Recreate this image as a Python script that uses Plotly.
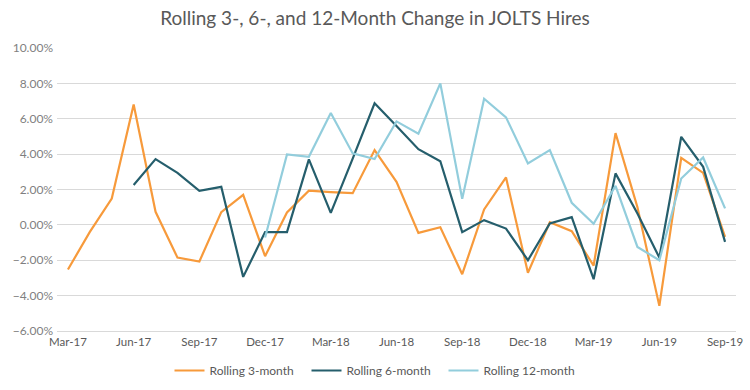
import plotly.graph_objects as go

months = ["Mar-17","Apr-17","May-17","Jun-17","Jul-17","Aug-17","Sep-17","Oct-17","Nov-17","Dec-17",
          "Jan-18","Feb-18","Mar-18","Apr-18","May-18","Jun-18","Jul-18","Aug-18","Sep-18","Oct-18",
          "Nov-18","Dec-18","Jan-19","Feb-19","Mar-19","Apr-19","May-19","Jun-19","Jul-19","Aug-19","Sep-19"]

rolling_3 = [-2.52, -0.40, 1.49, 6.81, 0.74, -1.85, -2.07, 0.72, 1.70, -1.77,
             0.70, 1.93, 1.85, 1.79, 4.23, 2.43, -0.45, -0.13, -2.79, 0.87,
             2.68, -2.71, 0.15, -0.36, -2.30, 5.19, 1.00, -4.58, 3.79, 2.94, -0.68]

rolling_6 = [None, None, None, 2.25, 3.72, 2.94, 1.93, 2.15, -2.94, -0.41,
             -0.41, 3.70, 0.68, 3.75, 6.87, 5.59, 4.28, 3.60, -0.41, 0.27,
             -0.21, -2.00, 0.08, 0.44, -3.07, 2.91, 0.64, -1.85, 4.98, 3.28, -0.96]

rolling_12 = [None, None, None, None, None, None, None, None, None, -0.71,
              3.98, 3.85, 6.32, 4.04, 3.72, 5.85, 5.15, 8.00, 1.47, 7.13,
              6.08, 3.47, 4.23, 1.25, 0.06, 2.21, -1.25, -2.00, 2.62, 3.81, 0.93]

tick_labels = ["Mar-17","Jun-17","Sep-17","Dec-17","Mar-18","Jun-18","Sep-18","Dec-18","Mar-19","Jun-19","Sep-19"]
y_ticks = [-6, -4, -2, 0, 2, 4, 6, 8, 10]

def pct(vals):
    return [None if v is None else v / 100 for v in vals]

fig = go.Figure()
series = [("Rolling 3-month", rolling_3, "#F79A3B"),
          ("Rolling 6-month", rolling_6, "#255E6C"),
          ("Rolling 12-month", rolling_12, "#92CDDC")]
for name, vals, color in series:
    fig.add_trace(go.Scatter(x=months, y=pct(vals), mode="lines", name=name,
                             line=dict(color=color, width=2.2), connectgaps=False))

font_family = "Lato, 'Open Sans', sans-serif"
fig.update_layout(
    width=750, height=390,
    paper_bgcolor="white", plot_bgcolor="white",
    margin=dict(l=57, r=14, t=48, b=59, autoexpand=False),
    title=dict(text="Rolling 3-, 6-, and 12-Month Change in JOLTS Hires",
               x=0.5, xanchor="center", xref="container", yref="container", y=0.953, yanchor="middle",
               font=dict(family=font_family, size=19, color="#595959")),
    font=dict(family=font_family, color="#595959", size=11),
    legend=dict(orientation="h", x=0.5, xanchor="center", xref="container",
                yref="container", y=0.05, yanchor="middle",
                font=dict(size=12, color="#595959"), itemwidth=30, traceorder="normal",
                entrywidth=92),
    showlegend=True,
)
fig.update_xaxes(type="category", categoryorder="array", categoryarray=months,
                 range=[-0.5, len(months) - 0.5], automargin=False,
                 tickmode="array", tickvals=tick_labels, ticktext=tick_labels,
                 showgrid=False, showline=True, linecolor="#D9D9D9", linewidth=1,
                 ticks="", tickfont=dict(size=11.5, color="#595959"))
fig.update_yaxes(range=[-0.06, 0.10], tickvals=[v / 100 for v in y_ticks], tickformat=".2%",
                 automargin=False, ticklabelstandoff=3,
                 showgrid=True, gridcolor="#D9D9D9", gridwidth=1, zeroline=False,
                 showline=False, ticks="", tickfont=dict(size=12, color="#7F7F7F"))

fig.write_html("out.html", post_script="document.body.style.margin='0';",
               config={"displayModeBar": False})
